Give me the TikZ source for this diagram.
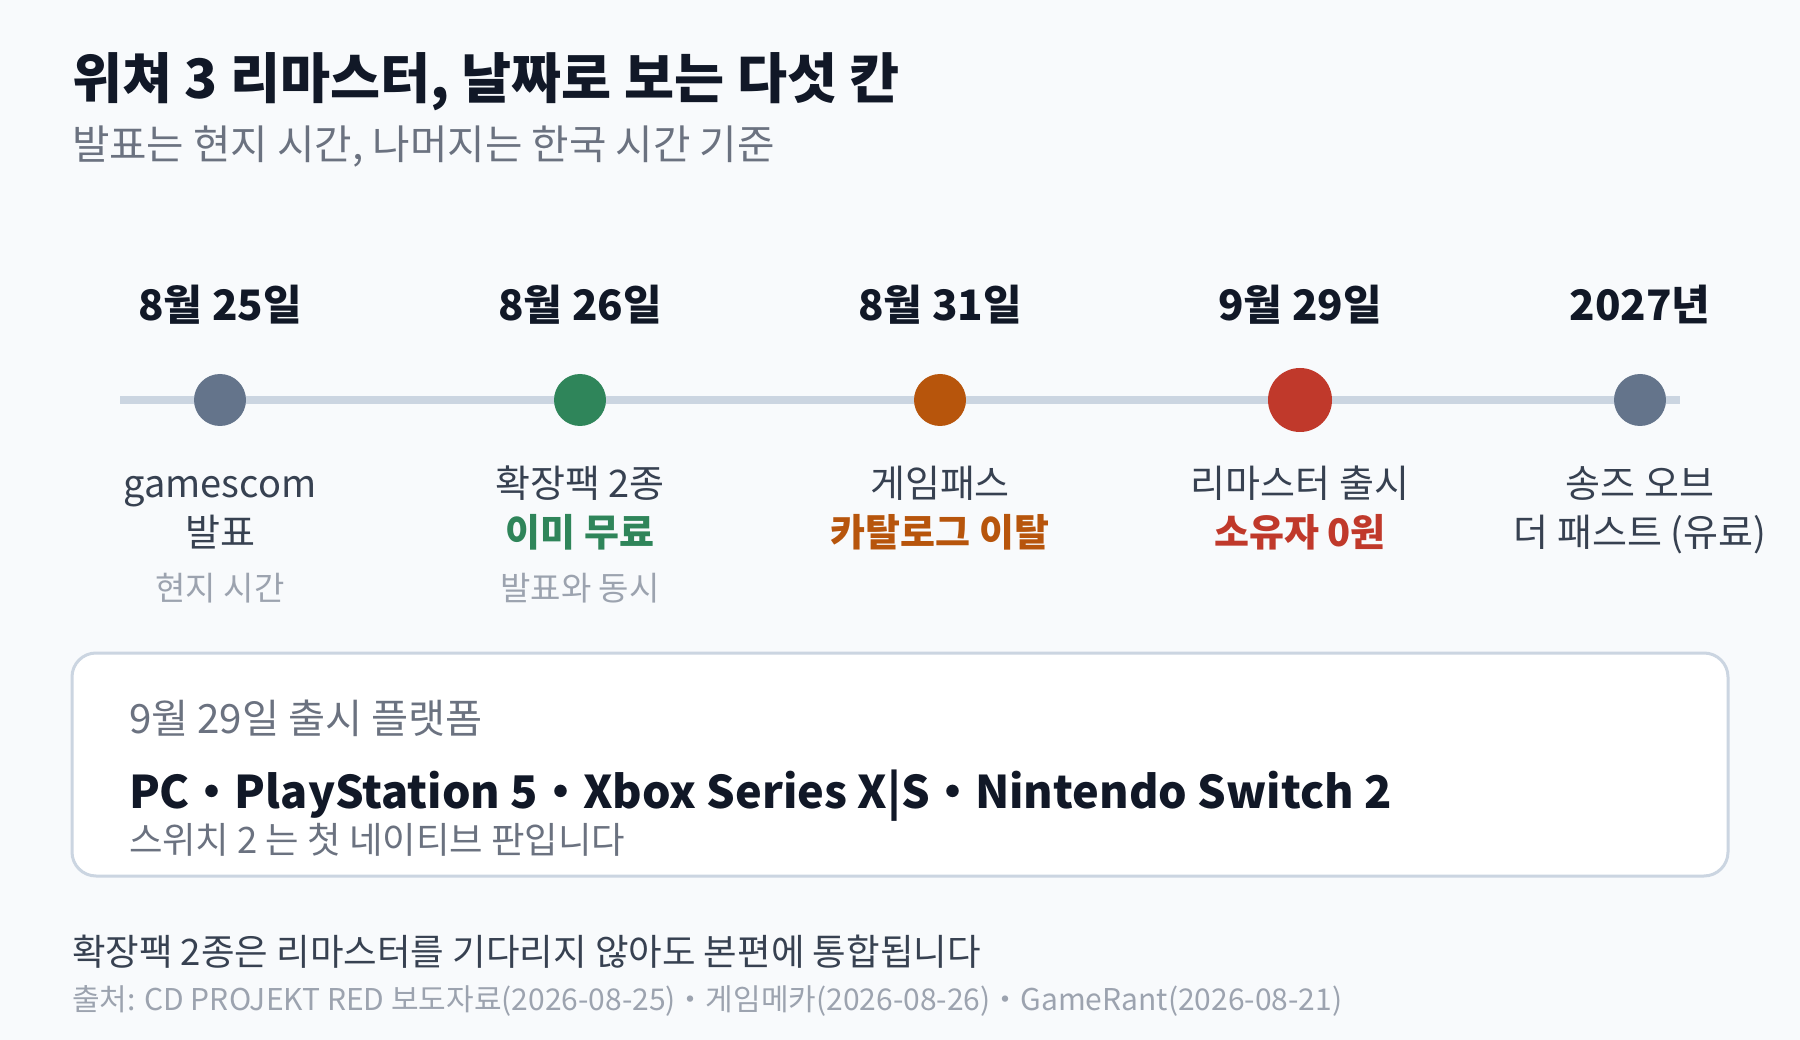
\documentclass[tikz,border=0pt]{standalone}
\usepackage{fontspec}
\setmainfont{Noto Sans CJK KR}
\definecolor{bg}{HTML}{F8FAFC}
\definecolor{ink}{HTML}{111827}
\definecolor{body}{HTML}{374151}
\definecolor{muted}{HTML}{6B7280}
\definecolor{faint}{HTML}{9CA3AF}
\definecolor{track}{HTML}{CBD5E1}
\definecolor{slate}{HTML}{64748B}
\definecolor{green}{HTML}{2F855A}
\definecolor{orange}{HTML}{B7550C}
\definecolor{red}{HTML}{C0392B}
\tikzset{
  txt/.style={inner sep=0pt, outer sep=0pt},
  datelbl/.style={txt, anchor=base, font=\fontsize{42}{48}\selectfont\bfseries, text=ink},
  lineA/.style={txt, anchor=base, font=\fontsize{38}{44}\selectfont, text=body},
  lineB/.style={txt, anchor=base, font=\fontsize{38}{44}\selectfont\bfseries},
  lineC/.style={txt, anchor=base, font=\fontsize{33}{38}\selectfont, text=faint},
  dot/.style={circle, inner sep=0pt, minimum size=52pt},
}
\begin{document}
\begin{tikzpicture}[x=1pt,y=-1pt]
\fill[bg] (0,0) rectangle (1800,1040);
\useasboundingbox (0,0) rectangle (1800,1040);

\node[txt, anchor=base west, font=\fontsize{54.4}{62}\selectfont\bfseries, text=ink] (title) at (72,99) {위쳐 3 리마스터, 날짜로 보는 다섯 칸};
\node[txt, anchor=base west, font=\fontsize{40.7}{46}\selectfont, text=muted] (sub) at (72,160) {발표는 현지 시간, 나머지는 한국 시간 기준};

\coordinate (tl) at (120,400);
\coordinate (tr) at (1680,400);
\draw[track, line width=8pt] (tl) -- (tr);

\node[dot, fill=slate] (d1) at (220,400) {};
\node[dot, fill=green] (d2) at (580,400) {};
\node[dot, fill=orange] (d3) at (940,400) {};
\node[dot, fill=red, minimum size=64pt] (d4) at (1300,400) {};
\node[dot, fill=slate] (d5) at (1640,400) {};

\node[datelbl] (t1) at (220,321) {8월 25일};
\node[datelbl] (t2) at (580,321) {8월 26일};
\node[datelbl] (t3) at (940,321) {8월 31일};
\node[datelbl] (t4) at (1300,321) {9월 29일};
\node[datelbl] (t5) at (1640,321) {2027년};

\node[lineA] (a1) at (220,497) {gamescom};
\node[lineA] (b1) at (220,546) {발표};
\node[lineC] (c1) at (220,600) {현지 시간};

\node[lineA] (a2) at (580,497) {확장팩 2종};
\node[lineB, text=green] (b2) at (580,546) {이미 무료};
\node[lineC] (c2) at (580,600) {발표와 동시};

\node[lineA] (a3) at (940,497) {게임패스};
\node[lineB, text=orange] (b3) at (940,546) {카탈로그 이탈};

\node[lineA] (a4) at (1300,497) {리마스터 출시};
\node[lineB, text=red] (b4) at (1300,546) {소유자 0원};

\node[lineA] (a5) at (1640,497) {송즈 오브};
\node[lineA] (b5) at (1640,546) {더 패스트 (유료)};

\draw[track, line width=3pt, fill=white, rounded corners=24pt] (72,653) rectangle (1728,876);
\node[txt, anchor=base west, font=\fontsize{40.3}{46}\selectfont, text=muted] (p0) at (129,733) {9월 29일 출시 플랫폼};
\node[txt, anchor=base west, font=\fontsize{45}{52}\selectfont\bfseries, text=ink] (p1) at (129,808) {PC・PlayStation 5・Xbox Series X|S・Nintendo Switch 2};
\node[txt, anchor=base west, font=\fontsize{36.4}{42}\selectfont, text=muted] (p2) at (129,853) {스위치 2 는 첫 네이티브 판입니다};

\node[txt, anchor=base west, font=\fontsize{36.5}{42}\selectfont, text=body] (f1) at (72,965) {확장팩 2종은 리마스터를 기다리지 않아도 본편에 통합됩니다};
\node[txt, anchor=base west, font=\fontsize{30}{36}\selectfont, text=faint] (f2) at (72,1010) {출처: CD PROJEKT RED 보도자료(2026-08-25)・게임메카(2026-08-26)・GameRant(2026-08-21)};
\end{tikzpicture}
\end{document}
